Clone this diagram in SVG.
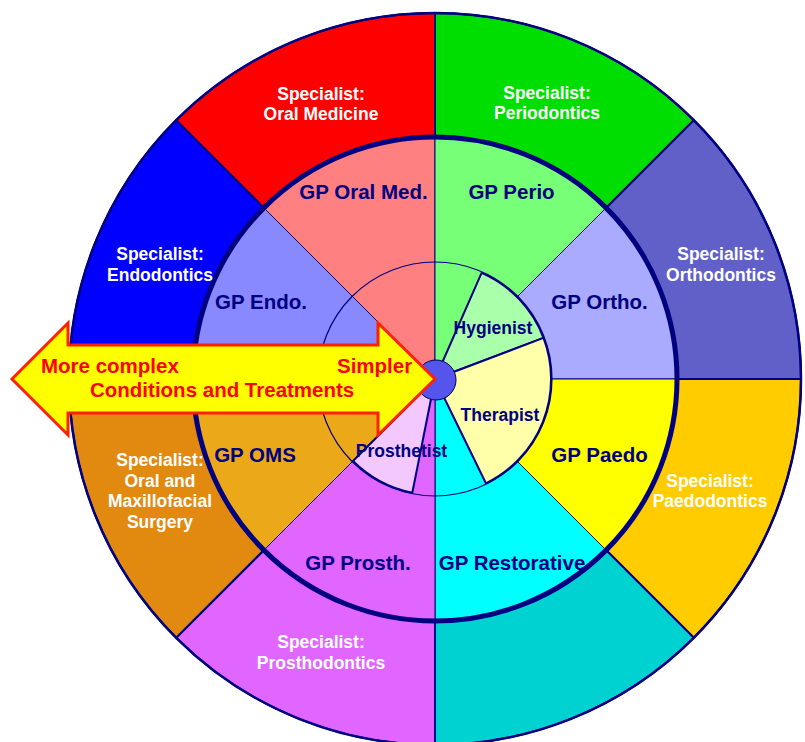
<svg xmlns="http://www.w3.org/2000/svg" width="805" height="742" viewBox="0 0 805 742">
<style>
.ow{stroke:#000080;stroke-width:2;stroke-linejoin:round}
.mw{stroke:#000080;stroke-width:1}
.iw{stroke:#000080;stroke-width:2;stroke-linejoin:round}
text{font-family:"Liberation Sans",Arial,sans-serif;font-weight:bold;text-anchor:middle}
.sp{fill:#ffffff;font-size:17.5px}
.gp{fill:#000080;font-size:20.5px}
.in{fill:#000080;font-size:17.5px}
.ar{fill:#ff0000;font-size:20.5px;text-anchor:start}
</style>
<rect width="805" height="742" fill="#ffffff"/>
<g id="outer-ring">
<g id="spec-oral-medicine"><path class="ow" fill="#ff0000" d="M435,379 L435,13 A366,366 0 0,0 176.2,120.2 Z"/></g>
<g id="spec-periodontics"><path class="ow" fill="#00dd00" d="M435,379 L693.8,120.2 A366,366 0 0,0 435,13 Z"/></g>
<g id="spec-orthodontics"><path class="ow" fill="#6060c8" d="M435,379 L801,379 A366,366 0 0,0 693.8,120.2 Z"/></g>
<g id="spec-paedodontics"><path class="ow" fill="#ffcc00" d="M435,379 L693.8,637.8 A366,366 0 0,0 801,379 Z"/></g>
<g id="spec-restorative"><path class="ow" fill="#00d2d2" d="M435,379 L435,745 A366,366 0 0,0 693.8,637.8 Z"/></g>
<g id="spec-prosthodontics"><path class="ow" fill="#e066ff" d="M435,379 L176.2,637.8 A366,366 0 0,0 435,745 Z"/></g>
<g id="spec-oms"><path class="ow" fill="#e2890f" d="M435,379 L69,379 A366,366 0 0,0 176.2,637.8 Z"/></g>
<g id="spec-endodontics"><path class="ow" fill="#0000ff" d="M435,379 L176.2,120.2 A366,366 0 0,0 69,379 Z"/></g>
<circle cx="435" cy="379" r="366" fill="none" stroke="#000080" stroke-width="2.5"/>
</g>
<g id="middle-ring">
<g id="gp-oral-med"><path class="mw" fill="#ff8080" d="M435,379 L435,137 A242,242 0 0,0 263.9,207.9 Z"/></g>
<g id="gp-perio"><path class="mw" fill="#77ff77" d="M435,379 L606.1,207.9 A242,242 0 0,0 435,137 Z"/></g>
<g id="gp-ortho"><path class="mw" fill="#aaaaff" d="M435,379 L677,379 A242,242 0 0,0 606.1,207.9 Z"/></g>
<g id="gp-paedo"><path class="mw" fill="#ffff00" d="M435,379 L606.1,550.1 A242,242 0 0,0 677,379 Z"/></g>
<g id="gp-restorative"><path class="mw" fill="#00ffff" d="M435,379 L435,621 A242,242 0 0,0 606.1,550.1 Z"/></g>
<g id="gp-prosth"><path class="mw" fill="#e066ff" d="M435,379 L263.9,550.1 A242,242 0 0,0 435,621 Z"/></g>
<g id="gp-oms"><path class="mw" fill="#eba91a" d="M435,379 L193,379 A242,242 0 0,0 263.9,550.1 Z"/></g>
<g id="gp-endo"><path class="mw" fill="#8888ff" d="M435,379 L263.9,207.9 A242,242 0 0,0 193,379 Z"/></g>
<circle cx="435" cy="379" r="242" fill="none" stroke="#000080" stroke-width="5"/>
<circle cx="435" cy="379" r="117" fill="none" stroke="#000080" stroke-width="1.2"/>
</g>
<g id="inner-ring">
<g id="hygienist"><path class="iw" fill="#aaffaa" d="M435,379 L543.5,337.9 A116,116 0 0,0 481.6,272.8 Z"/></g>
<g id="therapist"><path class="iw" fill="#ffffaa" d="M435,379 L485.9,483.3 A116,116 0 0,0 543.5,337.9 Z"/></g>
<g id="prosthetist"><path class="iw" fill="#f2c8ff" d="M435,379 L353,461 A116,116 0 0,0 412.3,492.8 Z"/></g>
<g id="centre"><circle cx="436" cy="380" r="20" fill="#5555ee" stroke="#000050" stroke-width="1"/></g>
</g>
<g id="arrow">
<path d="M12,379 L68,323 L68,345 L378,345 L378,323 L435,379 L378,435 L378,413 L68,413 L68,435 Z" fill="#ffff00" stroke="#ff2000" stroke-width="3" stroke-linejoin="miter"/>
<text class="ar" x="41" y="373">More complex</text>
<text class="ar" x="337" y="373">Simpler</text>
<text class="ar" x="90" y="397">Conditions and Treatments</text>
</g>
<g id="labels">
<text class="sp" x="321" y="100">Specialist:</text>
<text class="sp" x="321" y="120">Oral Medicine</text>
<text class="sp" x="547" y="99">Specialist:</text>
<text class="sp" x="547" y="119">Periodontics</text>
<text class="sp" x="160" y="260">Specialist:</text>
<text class="sp" x="160" y="281">Endodontics</text>
<text class="sp" x="721" y="260">Specialist:</text>
<text class="sp" x="721" y="281">Orthodontics</text>
<text class="sp" x="710" y="487">Specialist:</text>
<text class="sp" x="710" y="507">Paedodontics</text>
<text class="sp" x="160" y="466">Specialist:</text>
<text class="sp" x="160" y="487">Oral and</text>
<text class="sp" x="160" y="507">Maxillofacial</text>
<text class="sp" x="160" y="528">Surgery</text>
<text class="sp" x="321" y="648">Specialist:</text>
<text class="sp" x="321" y="669">Prosthodontics</text>
<text class="gp" x="363.5" y="199">GP Oral Med.</text>
<text class="gp" x="511.5" y="199">GP Perio</text>
<text class="gp" x="599.5" y="309">GP Ortho.</text>
<text class="gp" x="261" y="309">GP Endo.</text>
<text class="gp" x="255" y="462">GP OMS</text>
<text class="gp" x="358" y="570">GP Prosth.</text>
<text class="gp" x="599.5" y="462">GP Paedo</text>
<text class="gp" x="512" y="570">GP Restorative</text>
<text class="in" x="493" y="334">Hygienist</text>
<text class="in" x="500" y="421">Therapist</text>
<text class="in" x="401.5" y="457">Prosthetist</text>
</g>
</svg>
